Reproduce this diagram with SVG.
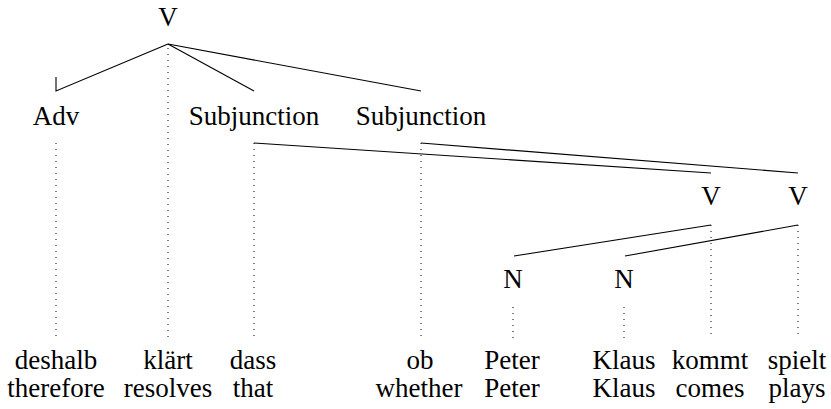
<svg xmlns="http://www.w3.org/2000/svg" width="831" height="409" viewBox="0 0 831 409">
<style>
text{font-family:"Liberation Serif","Times New Roman",serif;font-size:27px;fill:#000;text-anchor:middle}
.e{stroke:#000;stroke-width:1.1;fill:none}
.d{stroke:#000;stroke-width:1;stroke-dasharray:1 5;fill:none}
</style>
<rect width="831" height="409" fill="#fff"/>
<g id="connectors">
<polyline class="e" points="56,77 56,91 168,44"/>
<line class="e" x1="168" y1="44" x2="254" y2="91"/>
<line class="e" x1="168" y1="44" x2="421" y2="91"/>
<line class="e" x1="254" y1="143" x2="711" y2="173"/>
<line class="e" x1="421" y1="143" x2="798" y2="173"/>
<line class="e" x1="711" y1="225" x2="514" y2="256"/>
<line class="e" x1="798" y1="225" x2="625" y2="256"/>
<line class="d" x1="168" y1="48" x2="168" y2="338"/>
<line class="d" x1="56" y1="143" x2="56" y2="338"/>
<line class="d" x1="254" y1="143" x2="254" y2="338"/>
<line class="d" x1="421" y1="143" x2="421" y2="338"/>
<line class="d" x1="711" y1="225" x2="711" y2="338"/>
<line class="d" x1="798" y1="225" x2="798" y2="338"/>
<line class="d" x1="513" y1="307" x2="513" y2="338"/>
<line class="d" x1="624" y1="307" x2="624" y2="338"/>
</g>
<g id="node-V-root"><text x="168" y="26">V</text></g>
<g id="node-Adv"><text x="56" y="125">Adv</text></g>
<g id="node-Subj1"><text x="254" y="125">Subjunction</text></g>
<g id="node-Subj2"><text x="421" y="125">Subjunction</text></g>
<g id="node-V1"><text x="711" y="205">V</text></g>
<g id="node-V2"><text x="798" y="205">V</text></g>
<g id="node-N1"><text x="513" y="288">N</text></g>
<g id="node-N2"><text x="624" y="288">N</text></g>
<g id="word-deshalb"><text x="56" y="369">deshalb</text><text x="56" y="397">therefore</text></g>
<g id="word-klaert"><text x="168" y="369">klärt</text><text x="168" y="397">resolves</text></g>
<g id="word-dass"><text x="253" y="369">dass</text><text x="253" y="397">that</text></g>
<g id="word-ob"><text x="420" y="369">ob</text><text x="419" y="397">whether</text></g>
<g id="word-Peter"><text x="512" y="369">Peter</text><text x="512" y="397">Peter</text></g>
<g id="word-Klaus"><text x="624" y="369">Klaus</text><text x="624" y="397">Klaus</text></g>
<g id="word-kommt"><text x="710" y="369">kommt</text><text x="710" y="397">comes</text></g>
<g id="word-spielt"><text x="797" y="369">spielt</text><text x="797" y="397">plays</text></g>
</svg>
